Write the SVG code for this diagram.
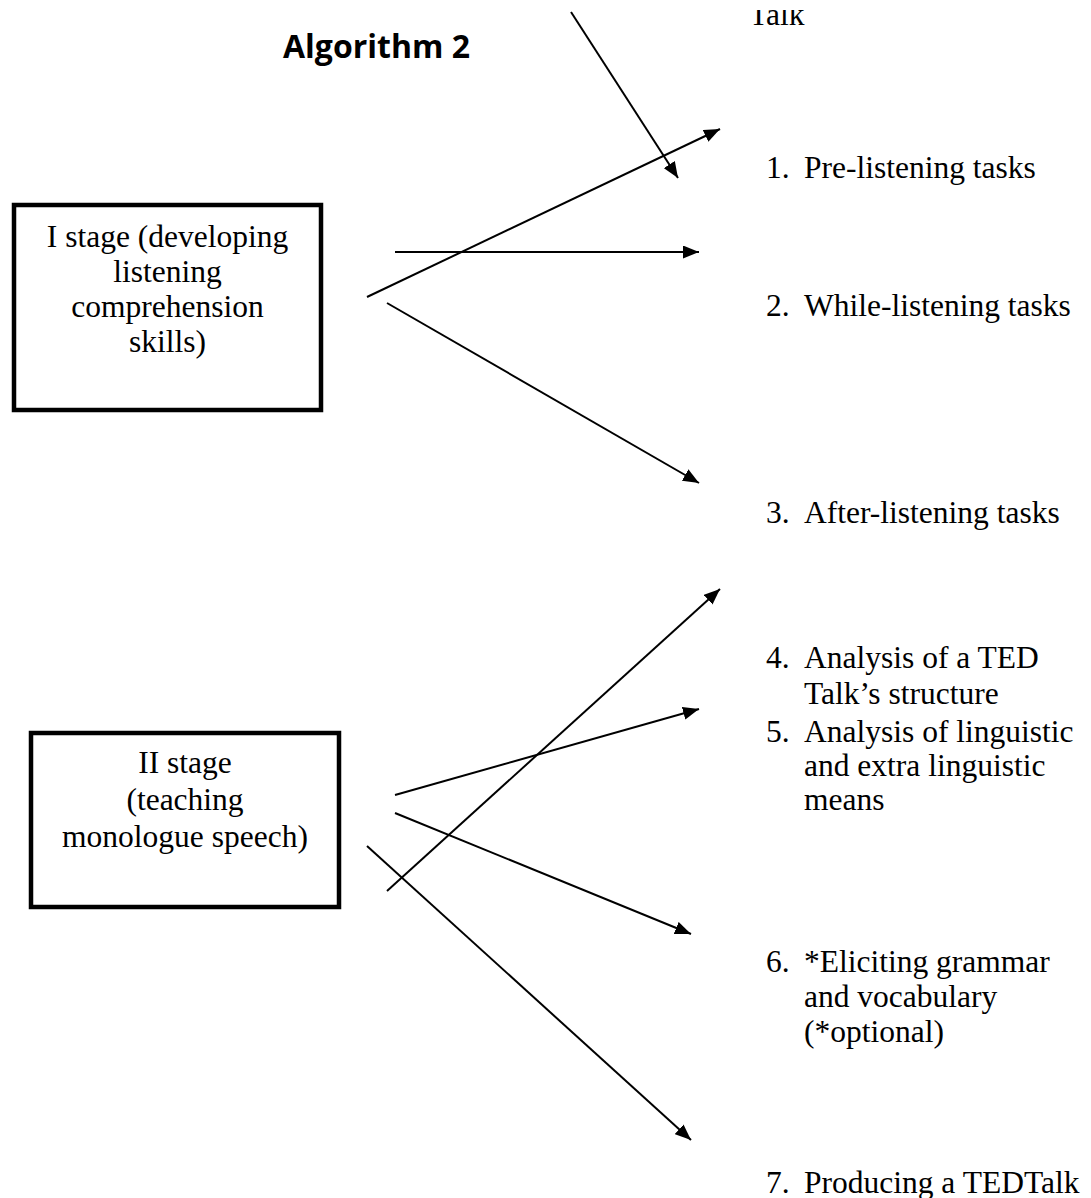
<svg xmlns="http://www.w3.org/2000/svg" width="1091" height="1198" viewBox="0 0 1091 1198">
<style>
.t{font-family:"Liberation Serif","Times New Roman",serif;font-size:31.5px;fill:#000}
.c{text-anchor:middle}
.title{font-family:"Open Sans","Liberation Sans",sans-serif;font-weight:bold;font-size:32px;fill:#000}
.box{fill:#fff;stroke:#000;stroke-width:4.5}
.ln{stroke:#000;stroke-width:2;fill:none;marker-end:url(#ah)}
</style>
<defs>
<marker id="ah" markerUnits="userSpaceOnUse" markerWidth="17" markerHeight="13" refX="16" refY="6.5" orient="auto">
<path d="M0,0 L16,6.5 L0,13 Z" fill="#000"/>
</marker>
<clipPath id="topcut"><rect x="700" y="10" width="200" height="40"/></clipPath>
</defs>
<rect width="1091" height="1198" fill="#fff"/>
<text class="title" x="283" y="58">Algorithm 2</text>
<text class="t" x="749" y="25" clip-path="url(#topcut)">Talk</text>
<g id="stage1">
<rect class="box" x="14" y="205" width="307" height="205"/>
<text class="t c" x="167.5" y="247">I stage (developing</text>
<text class="t c" x="167.5" y="282">listening</text>
<text class="t c" x="167.5" y="317">comprehension</text>
<text class="t c" x="167.5" y="352">skills)</text>
</g>
<g id="stage2">
<rect class="box" x="31" y="733" width="308" height="174"/>
<text class="t c" x="185" y="773">II stage</text>
<text class="t c" x="185" y="810">(teaching</text>
<text class="t c" x="185" y="847">monologue speech)</text>
</g>
<g id="item1"><text class="t" x="766" y="178">1.</text><text class="t" x="804" y="178">Pre-listening tasks</text></g>
<g id="item2"><text class="t" x="766" y="316">2.</text><text class="t" x="804" y="316">While-listening tasks</text></g>
<g id="item3"><text class="t" x="766" y="523">3.</text><text class="t" x="804" y="523">After-listening tasks</text></g>
<g id="item4"><text class="t" x="766" y="668">4.</text><text class="t" x="804" y="668">Analysis of a TED</text><text class="t" x="804" y="704">Talk’s structure</text></g>
<g id="item5"><text class="t" x="766" y="742">5.</text><text class="t" x="804" y="742">Analysis of linguistic</text><text class="t" x="804" y="776">and extra linguistic</text><text class="t" x="804" y="810">means</text></g>
<g id="item6"><text class="t" x="766" y="972">6.</text><text class="t" x="804" y="972">*Eliciting grammar</text><text class="t" x="804" y="1007">and vocabulary</text><text class="t" x="804" y="1042">(*optional)</text></g>
<g id="item7"><text class="t" x="766" y="1193">7.</text><text class="t" x="804" y="1193">Producing a TEDTalk</text></g>
<g id="connectors">
<line class="ln" x1="571" y1="12" x2="678" y2="178"/>
<line class="ln" x1="367" y1="297" x2="720" y2="129"/>
<line class="ln" x1="395" y1="252" x2="699" y2="252"/>
<line class="ln" x1="387" y1="303" x2="699" y2="483"/>
<line class="ln" x1="387" y1="891" x2="720" y2="589"/>
<line class="ln" x1="395" y1="795" x2="699" y2="709"/>
<line class="ln" x1="395" y1="813" x2="691" y2="934"/>
<line class="ln" x1="367" y1="846" x2="691" y2="1140"/>
</g>
</svg>
